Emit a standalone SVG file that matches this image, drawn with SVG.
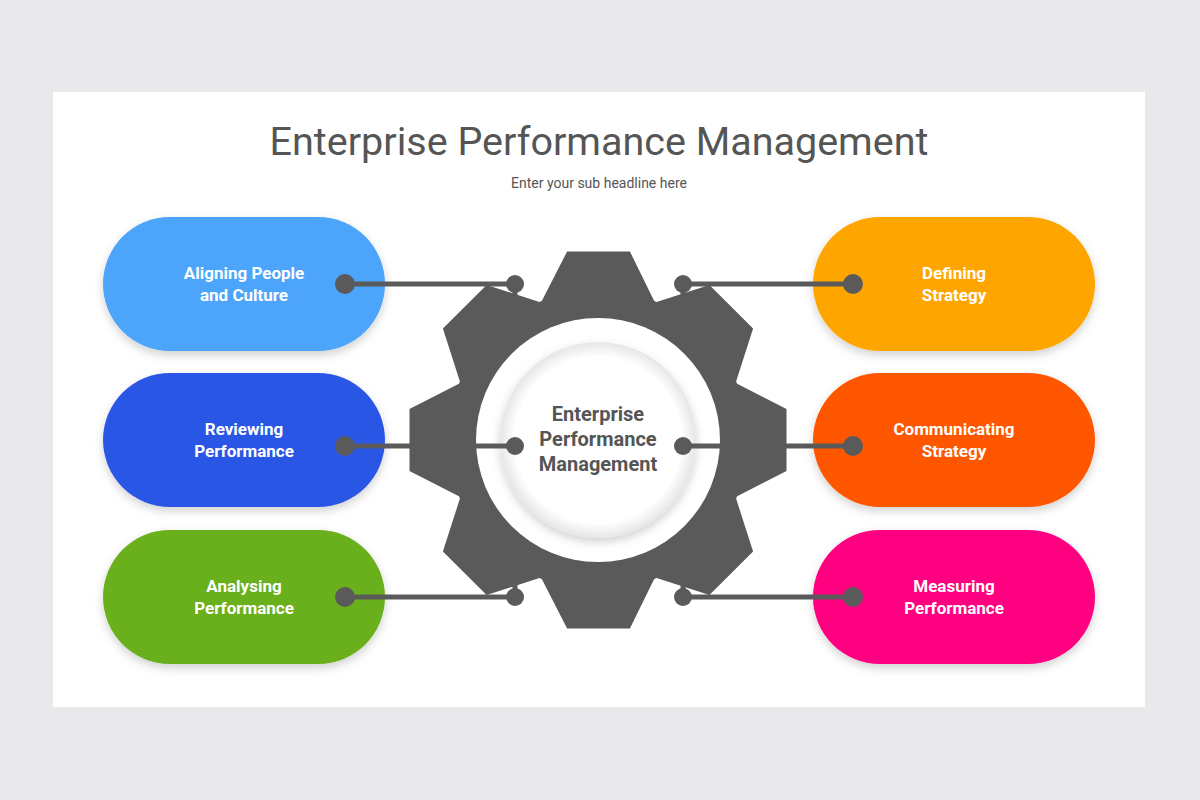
<svg xmlns="http://www.w3.org/2000/svg" width="1200" height="800" viewBox="0 0 1200 800">
<defs>
<style>
.pill{filter:url(#sh)}
.pt{font-family:Roboto,"Liberation Sans",sans-serif;font-weight:bold;font-size:17px;fill:#fff;text-anchor:middle}
.ln{stroke:#5a5a5a;stroke-width:5;fill:none}
.dot{fill:#5a5a5a}
</style>
<filter id="sh" x="-20%" y="-20%" width="140%" height="150%"><feDropShadow dx="0" dy="4" stdDeviation="5" flood-color="#000" flood-opacity="0.18"/></filter>
<radialGradient id="ig" cx="0.5" cy="0.5" r="0.5"><stop offset="0.85" stop-color="#fff"/><stop offset="1" stop-color="#e6e6e6"/></radialGradient>
</defs>
<rect width="1200" height="800" fill="#e9e8ea"/>
<rect x="53" y="92" width="1092" height="615" fill="#fff"/>
<text x="599" y="155" font-family="Roboto,'Liberation Sans',sans-serif" font-size="39.5" fill="#555" text-anchor="middle">Enterprise Performance Management</text>
<text x="599" y="188" font-family="Roboto,'Liberation Sans',sans-serif" font-size="14" fill="#555" text-anchor="middle">Enter your sub headline here</text>
<g id="gear">
<path fill="#5a5a5a" d="M541.8,300.9 L567.1,251.5 L629.9,251.5 L654.2,300.9 L656.6,301.9 L709.4,284.9 L753.1,328.6 L736.1,381.4 L737.1,383.8 L786.5,409.1 L786.5,470.9 L737.1,496.2 L736.1,498.6 L753.1,551.4 L709.4,595.1 L656.6,578.1 L654.2,579.1 L629.9,628.5 L567.1,628.5 L541.8,579.1 L539.4,578.1 L486.6,595.1 L442.9,551.4 L459.9,498.6 L458.9,496.2 L409.5,470.9 L409.5,409.1 L458.9,383.8 L459.9,381.4 L442.9,328.6 L486.6,284.9 L539.4,301.9 Z"/>
<circle cx="598" cy="440" r="122" fill="#fff"/>
<circle cx="598" cy="440" r="98" fill="url(#ig)" filter="url(#sh)"/>
<text class="pt" x="598" y="421" style="fill:#555;font-size:20px">Enterprise</text>
<text class="pt" x="598" y="446" style="fill:#555;font-size:20px">Performance</text>
<text class="pt" x="598" y="471" style="fill:#555;font-size:20px">Management</text>
</g>
<g id="n1"><rect class="pill" x="103" y="217" width="282" height="134" rx="67" fill="#4ea5fb"/><text class="pt" x="244" y="279">Aligning People</text><text class="pt" x="244" y="301">and Culture</text></g>
<g id="n2"><rect class="pill" x="103" y="373" width="282" height="134" rx="67" fill="#2b57e6"/><text class="pt" x="244" y="435">Reviewing</text><text class="pt" x="244" y="457">Performance</text></g>
<g id="n3"><rect class="pill" x="103" y="530" width="282" height="134" rx="67" fill="#6aaf1b"/><text class="pt" x="244" y="592">Analysing</text><text class="pt" x="244" y="614">Performance</text></g>
<g id="n4"><rect class="pill" x="813" y="217" width="282" height="134" rx="67" fill="#ffa502"/><text class="pt" x="954" y="279">Defining</text><text class="pt" x="954" y="301">Strategy</text></g>
<g id="n5"><rect class="pill" x="813" y="373" width="282" height="134" rx="67" fill="#ff5600"/><text class="pt" x="954" y="435">Communicating</text><text class="pt" x="954" y="457">Strategy</text></g>
<g id="n6"><rect class="pill" x="813" y="530" width="282" height="134" rx="67" fill="#ff0381"/><text class="pt" x="954" y="592">Measuring</text><text class="pt" x="954" y="614">Performance</text></g>
<g id="connectors">
<path class="ln" d="M345,284 H515 V302 M345,446 H515 M345,597 H515 V579 M853,284 H683 V302 M853,446 H683 M853,597 H683 V579"/>
<circle class="dot" cx="345" cy="284" r="10"/><circle class="dot" cx="515" cy="284" r="9"/>
<circle class="dot" cx="345" cy="446" r="10"/><circle class="dot" cx="515" cy="446" r="9"/>
<circle class="dot" cx="345" cy="597" r="10"/><circle class="dot" cx="515" cy="597" r="9"/>
<circle class="dot" cx="853" cy="284" r="10"/><circle class="dot" cx="683" cy="284" r="9"/>
<circle class="dot" cx="853" cy="446" r="10"/><circle class="dot" cx="683" cy="446" r="9"/>
<circle class="dot" cx="853" cy="597" r="10"/><circle class="dot" cx="683" cy="597" r="9"/>
</g>
</svg>
